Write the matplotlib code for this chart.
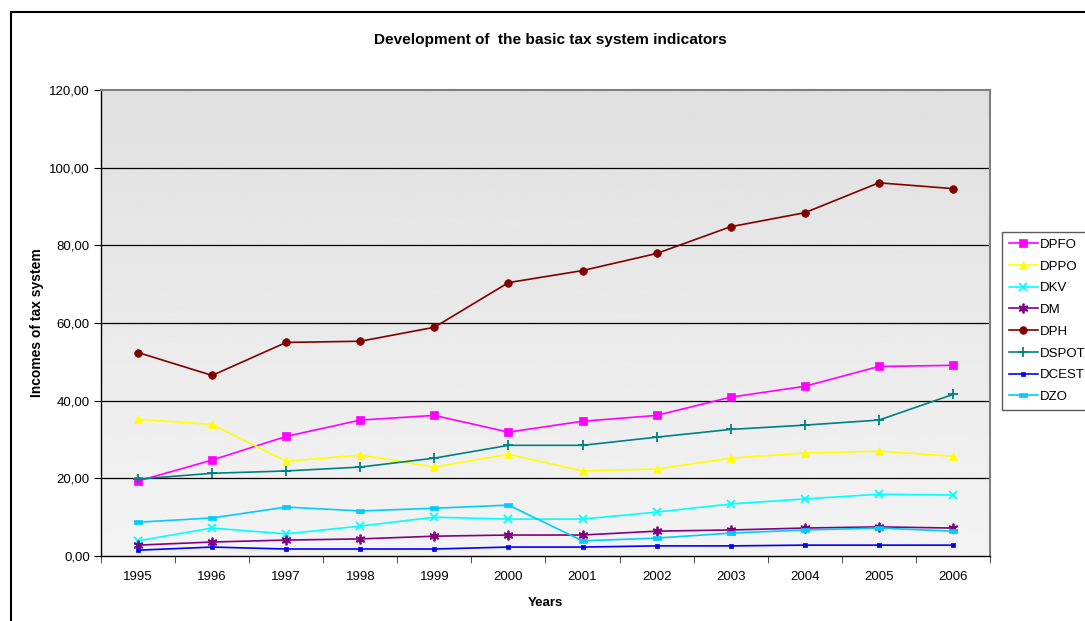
import numpy as np
import matplotlib
matplotlib.use("Agg")
import matplotlib.pyplot as plt
from matplotlib.patches import Rectangle
from matplotlib.ticker import FixedLocator, FuncFormatter

plt.rcParams["font.family"] = ["Liberation Sans", "DejaVu Sans"]

# ── data (billions, read per year) ───────────────────────────────────────────
years = [1995, 1996, 1997, 1998, 1999, 2000, 2001, 2002, 2003, 2004, 2005, 2006]

dpfo = [19.3, 24.7, 30.8, 35.0, 36.2, 31.9, 34.7, 36.2, 40.9, 43.7, 48.8, 49.1]
dppo = [35.2, 33.9, 24.4, 26.0, 22.9, 26.2, 21.9, 22.4, 25.2, 26.5, 27.0, 25.7]
dkv = [3.9, 7.2, 5.7, 7.7, 10.0, 9.5, 9.5, 11.3, 13.4, 14.7, 15.9, 15.7]
dm = [2.8, 3.6, 4.1, 4.4, 5.1, 5.4, 5.4, 6.4, 6.7, 7.2, 7.5, 7.2]
dph = [52.4, 46.5, 55.0, 55.3, 58.9, 70.4, 73.5, 77.9, 84.8, 88.4, 96.1, 94.6]
dspot = [19.8, 21.3, 21.9, 22.9, 25.2, 28.5, 28.5, 30.6, 32.6, 33.7, 35.0, 41.6]
dcest = [1.5, 2.3, 1.8, 1.8, 1.8, 2.3, 2.3, 2.6, 2.6, 2.8, 2.8, 2.8]
dzo = [8.7, 9.8, 12.6, 11.6, 12.3, 13.1, 3.9, 4.6, 5.9, 6.7, 7.2, 6.4]

y_ticks = [0, 20, 40, 60, 80, 100, 120]

# wide flat bar marker used for DZO
bar_marker = [(-1, -0.45), (1, -0.45), (1, 0.45), (-1, 0.45), (-1, -0.45)]

# name, values, colour, marker, marker size
series = [
    ("DPFO", dpfo, "#ff00ff", "s", 5.5),
    ("DPPO", dppo, "#ffff00", "^", 6),
    ("DKV", dkv, "#00ffff", "x", 6),
    ("DM", dm, "#800080", (6, 2, 0), 7),
    ("DPH", dph, "#800000", "o", 5.5),
    ("DSPOT", dspot, "#008080", "+", 7),
    ("DCEST", dcest, "#0000ff", "s", 3.2),
    ("DZO", dzo, "#00ccff", bar_marker, 6),
]

W, H = 1085, 621
fig = plt.figure(figsize=(W / 100, H / 100), dpi=100)
ax = fig.add_axes([101 / W, 1 - 556 / H, (990 - 101) / W, (556 - 90) / H])

x = np.arange(len(years))
ax.set_xlim(-0.5, len(years) - 0.5)
ax.set_ylim(0, 120)

# grey vertical gradient behind the plot: darker at the top
grad = np.linspace(224, 243, 256).reshape(-1, 1) / 255.0
ax.imshow(grad, cmap="gray", vmin=0, vmax=1, aspect="auto",
          extent=(-0.5, len(years) - 0.5, 0, 120), zorder=0)

for yv in y_ticks[1:-1]:
    ax.axhline(yv, color="black", lw=0.9, zorder=1)

handles = []
for name, vals, col, mk, ms in series:
    mew = 1.3 if mk in ("x", "+") or isinstance(mk, tuple) else 0.5
    h, = ax.plot(x, vals, color=col, lw=1.2, marker=mk, ms=ms,
                 mec=col, mfc=col, mew=mew, label=name, zorder=3)
    handles.append(h)

# category labels centred, tick marks on the boundaries
ax.set_xticks(x)
ax.set_xticklabels([str(y) for y in years], fontsize=9.5)
ax.tick_params(axis="x", which="major", length=0, pad=11)
ax.xaxis.set_minor_locator(FixedLocator(np.arange(-0.5, len(years), 1.0)))
ax.tick_params(axis="x", which="minor", length=5, direction="out", color="#333333")

ax.set_yticks(y_ticks)
ax.yaxis.set_major_formatter(FuncFormatter(lambda v, p: f"{v:.2f}".replace(".", ",")))
ax.tick_params(axis="y", length=5, direction="out", labelsize=9.5, pad=3)

for side in ("top", "right"):
    ax.spines[side].set_color("#808080")
    ax.spines[side].set_linewidth(1.5)
for side in ("left", "bottom"):
    ax.spines[side].set_color("black")
    ax.spines[side].set_linewidth(1.0)

ax.set_xlabel("Years", fontsize=9.5, fontweight="bold", labelpad=10)
ax.set_ylabel("Incomes of tax system", fontsize=10, fontweight="bold", labelpad=4)
fig.text(550 / W, 1 - 40 / H, "Development of  the basic tax system indicators",
         ha="center", va="center", fontsize=11.1, fontweight="bold")

leg = fig.legend(handles=handles, loc="upper left",
                 bbox_to_anchor=(1002 / W, 1 - 232 / H), fontsize=9.5,
                 frameon=True, fancybox=False, borderpad=0.5,
                 labelspacing=0.72, handlelength=2.2, handletextpad=0.2,
                 borderaxespad=0)
leg.get_frame().set_edgecolor("#333333")
leg.get_frame().set_linewidth(1.0)

# outer chart border, running off the right and bottom edges
fig.patches.append(Rectangle((11 / W, -0.2), 1.5, 1.2 - 12 / H,
                             transform=fig.transFigure, fill=False,
                             edgecolor="black", lw=1.5))

fig.savefig("out.png", dpi=100)
